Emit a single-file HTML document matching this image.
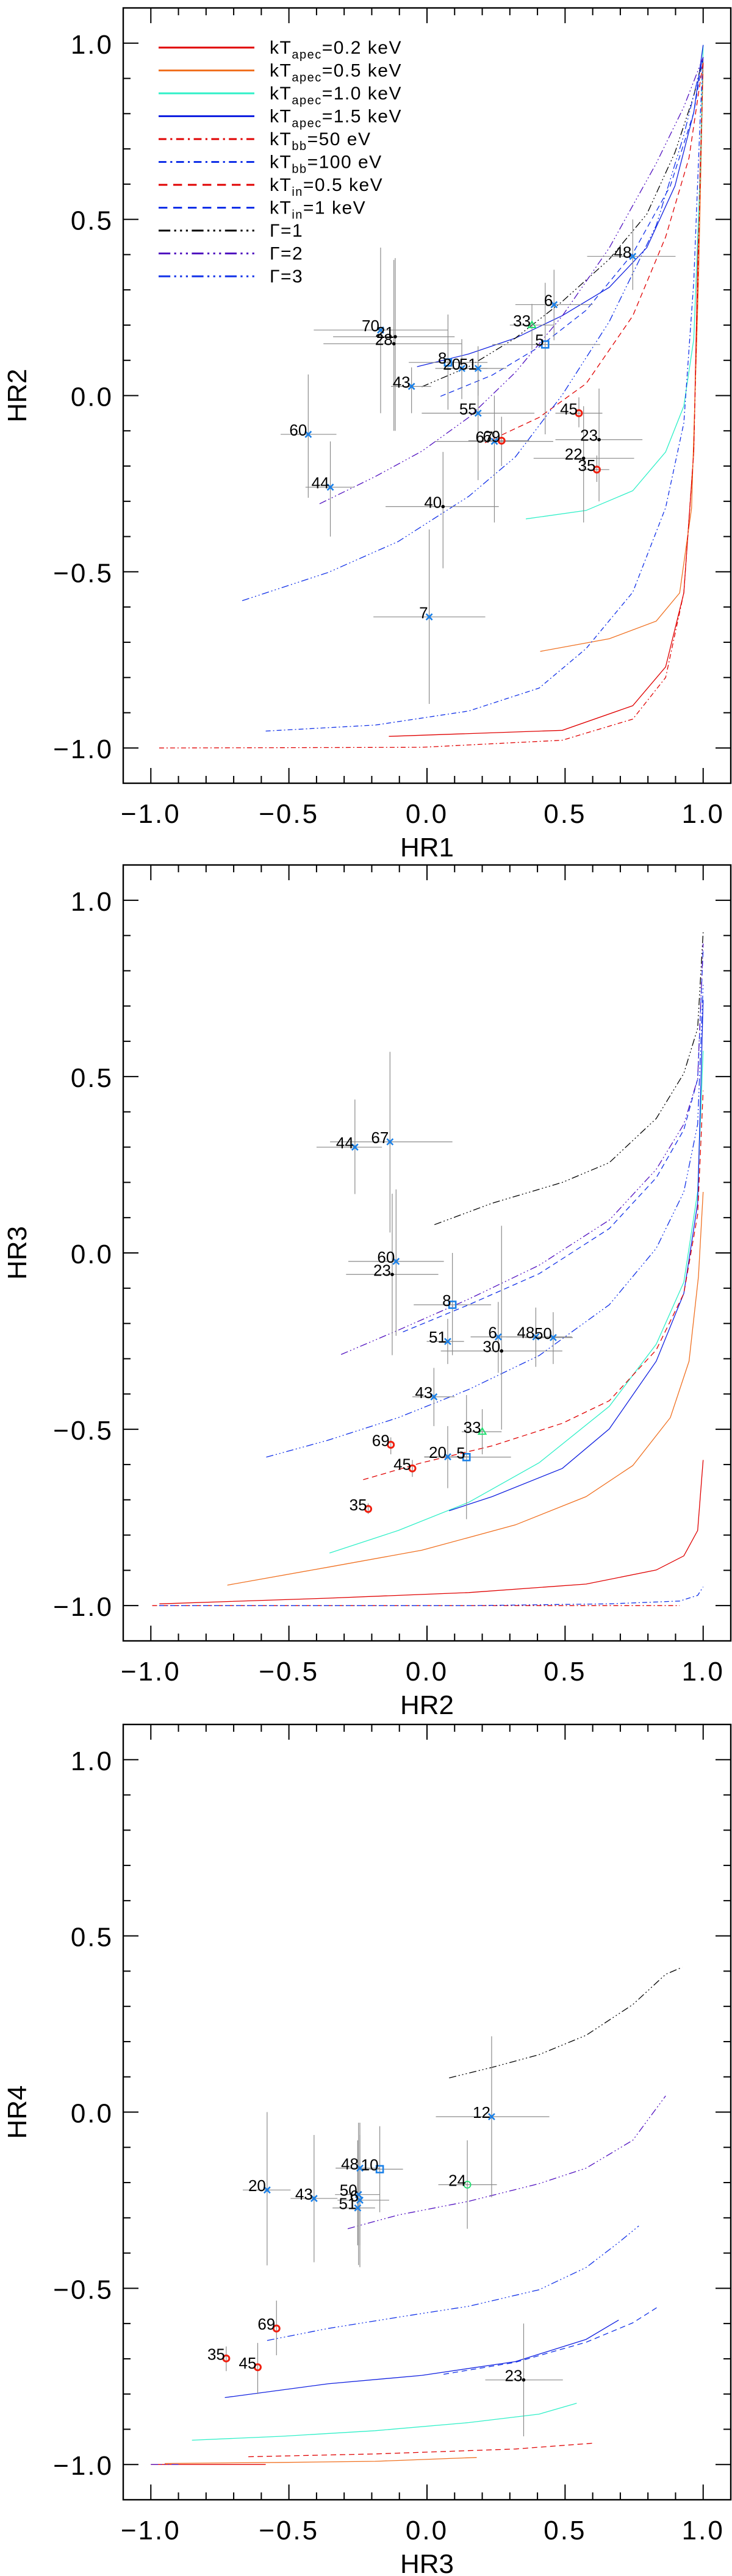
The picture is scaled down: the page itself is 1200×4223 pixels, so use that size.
<!DOCTYPE html>
<html><head><meta charset="utf-8"><title>Hardness ratio diagrams</title>
<style>
html,body{margin:0;padding:0;background:#fff;}
svg{display:block;font-family:"Liberation Sans","DejaVu Sans",sans-serif;}
</style></head>
<body>
<svg id="fig" xmlns="http://www.w3.org/2000/svg" width="1200" height="4223" viewBox="0 0 1200 4223"></svg>
<script>
// ---------- data ----------
const styles = {
  apec02:{c:"#e00000",d:""}, apec05:{c:"#f07020",d:""}, apec10:{c:"#30f0c8",d:""}, apec15:{c:"#1020e0",d:""},
  bb50:{c:"#e00000",d:"8 4 2 4"}, bb100:{c:"#1030e8",d:"8 4 2 4"},
  in05:{c:"#e00000",d:"9 6"}, in1:{c:"#1030e8",d:"9 6"},
  g1:{c:"#000000",d:"12 4 2 4 2 4 2 4"}, g2:{c:"#5010c0",d:"12 4 2 4 2 4 2 4"}, g3:{c:"#1030e8",d:"12 4 2 4 2 4 2 4"}
};
// Panel 1 (HR1 vs HR2) model curves
const p1_apec02_x=[-0.138,0.49,0.745,0.864,0.93,0.966,0.983,1.0];
const p1_apec02_y=[-0.967,-0.95,-0.88,-0.77,-0.56,-0.16,0.48,0.947];
const p1_apec05_x=[0.41,0.66,0.83,0.915,0.958,0.983,1.0];
const p1_apec05_y=[-0.726,-0.69,-0.64,-0.56,-0.32,0.32,0.947];
const p1_apec10_x=[0.358,0.576,0.745,0.864,0.93,0.966,0.99,1.0];
const p1_apec10_y=[-0.35,-0.326,-0.27,-0.16,-0.03,0.16,0.64,0.995];
const p1_apec15_x=[-0.036,0.151,0.32,0.49,0.66,0.796,0.898,0.966,1.0];
const p1_apec15_y=[0.082,0.118,0.163,0.227,0.307,0.42,0.595,0.803,0.995];
const p1_bb50_x=[-0.97,-0.019,0.49,0.745,0.864,0.93,0.966,0.99,1.0];
const p1_bb50_y=[-1.0,-0.998,-0.978,-0.918,-0.8,-0.56,-0.16,0.64,0.96];
const p1_bb100_x=[-0.584,-0.188,0.151,0.406,0.576,0.745,0.864,0.93,0.966,0.99,1.0];
const p1_bb100_y=[-0.952,-0.935,-0.895,-0.83,-0.718,-0.558,-0.318,-0.078,0.323,0.803,0.96];
const p1_in05_x=[0.21,0.406,0.576,0.745,0.864,0.949,1.0];
const p1_in05_y=[-0.134,-0.062,0.034,0.226,0.45,0.675,0.947];
const p1_in1_x=[0.049,0.236,0.406,0.576,0.745,0.881,0.966,1.0];
const p1_in1_y=[-0.002,0.058,0.138,0.242,0.403,0.595,0.803,0.96];
const p1_g1_x=[-0.019,0.151,0.32,0.49,0.66,0.796,0.898,0.966,1.0];
const p1_g1_y=[0.025,0.082,0.163,0.267,0.387,0.515,0.69,0.851,0.96];
const p1_g2_x=[-0.389,-0.188,-0.019,0.151,0.32,0.49,0.66,0.83,0.93,1.0];
const p1_g2_y=[-0.307,-0.23,-0.158,-0.062,0.066,0.226,0.419,0.659,0.819,0.96];
const p1_g3_x=[-0.669,-0.358,-0.104,0.151,0.32,0.49,0.66,0.83,0.93,1.0];
const p1_g3_y=[-0.582,-0.502,-0.414,-0.286,-0.174,0.002,0.21,0.483,0.739,0.96];
// Panel 1 sources
const p1_id=["48","6","33","5","70","21","28","8","20","51","43","55","67","69","45","23","22","35","60","44","40","7"];
const p1_type=["x","x","tri","sq","x","dot","dot","sq","x","x","x","x","x","rc","rc","dot","dot","rc","x","x","dot","x"];
const p1_x=[0.745,0.46,0.38,0.428,-0.168,-0.115,-0.12,0.076,0.126,0.185,-0.056,0.185,0.244,0.27,0.55,0.623,0.567,0.615,-0.43,-0.35,0.058,0.008];
const p1_y=[0.395,0.258,0.2,0.145,0.186,0.167,0.147,0.094,0.077,0.077,0.026,-0.05,-0.13,-0.128,-0.05,-0.125,-0.178,-0.21,-0.11,-0.26,-0.315,-0.628];
const p1_xlo=[0.58,0.32,0.3,0.236,-0.41,-0.34,-0.375,-0.066,0.03,0.083,-0.13,-0.019,0.03,0.15,0.465,0.465,0.386,0.56,-0.53,-0.44,-0.15,-0.194];
const p1_xhi=[0.9,0.6,0.46,0.627,0.075,0.1,0.126,0.219,0.219,0.287,0.015,0.389,0.457,0.37,0.635,0.78,0.75,0.66,-0.328,-0.265,0.26,0.211];
const p1_ylo=[0.3,0.157,0.13,-0.11,-0.05,-0.1,-0.1,-0.04,-0.01,0.0,-0.05,-0.24,-0.36,-0.2,-0.09,-0.3,-0.36,-0.245,-0.29,-0.4,-0.49,-0.875];
const p1_yhi=[0.5,0.357,0.26,0.32,0.42,0.39,0.385,0.23,0.16,0.14,0.08,0.09,0.0,-0.06,-0.005,0.02,-0.03,-0.17,0.06,-0.13,-0.16,-0.38];
// Panel 2 (HR2 vs HR3) model curves
const p2_g1_x=[0.027,0.236,0.49,0.66,0.83,0.93,0.98,1.0];
const p2_g1_y=[0.08,0.141,0.2,0.256,0.381,0.509,0.637,0.909];
const p2_g2_x=[-0.311,-0.104,0.151,0.406,0.66,0.83,0.93,0.98,1.0];
const p2_g2_y=[-0.288,-0.219,-0.131,-0.035,0.093,0.237,0.365,0.493,0.877];
const p2_in1_x=[-0.087,0.151,0.406,0.66,0.83,0.93,0.98,1.0];
const p2_in1_y=[-0.224,-0.147,-0.059,0.069,0.213,0.349,0.493,0.86];
const p2_g3_x=[-0.582,-0.358,-0.104,0.151,0.406,0.66,0.83,0.93,0.98,1.0];
const p2_g3_y=[-0.579,-0.531,-0.467,-0.387,-0.291,-0.147,0.013,0.173,0.365,0.76];
const p2_in05_x=[-0.231,-0.019,0.236,0.49,0.66,0.83,0.93,0.98,1.0];
const p2_in05_y=[-0.643,-0.595,-0.547,-0.483,-0.419,-0.275,-0.115,0.109,0.46];
const p2_apec10_x=[-0.353,-0.104,0.151,0.406,0.66,0.83,0.93,0.98,1.0];
const p2_apec10_y=[-0.851,-0.787,-0.707,-0.595,-0.435,-0.259,-0.083,0.173,0.573];
const p2_apec15_x=[0.08,0.236,0.49,0.66,0.83,0.93,0.98,1.0];
const p2_apec15_y=[-0.731,-0.691,-0.611,-0.499,-0.307,-0.115,0.141,0.717];
const p2_apec05_x=[-0.723,-0.358,-0.019,0.32,0.576,0.745,0.881,0.949,0.983,1.0];
const p2_apec05_y=[-0.942,-0.891,-0.843,-0.771,-0.691,-0.603,-0.467,-0.307,-0.067,0.173];
const p2_apec02_x=[-0.969,-0.358,0.151,0.576,0.83,0.93,0.98,1.0];
const p2_apec02_y=[-0.995,-0.979,-0.963,-0.939,-0.899,-0.859,-0.787,-0.587];
const p2_bb50_x=[-0.995,0.32,0.915];
const p2_bb50_y=[-1.0,-1.0,-1.0];
const p2_bb100_x=[-0.97,0.151,0.66,0.915,0.98,1.0];
const p2_bb100_y=[-1.0,-1.0,-0.995,-0.987,-0.971,-0.947];
// Panel 2 sources
const p2_id=["44","67","60","23","8","51","6","48","50","30","43","33","69","20","5","45","35"];
const p2_type=["x","x","x","dot","sq","x","x","x","x","dot","x","tri","rc","x","sq","rc","rc"];
const p2_x=[-0.261,-0.134,-0.112,-0.126,0.092,0.075,0.258,0.394,0.457,0.27,0.025,0.2,-0.131,0.075,0.143,-0.053,-0.213];
const p2_y=[0.3,0.315,-0.024,-0.061,-0.147,-0.251,-0.238,-0.238,-0.24,-0.278,-0.408,-0.507,-0.544,-0.578,-0.579,-0.611,-0.726];
const p2_xlo=[-0.4,-0.351,-0.285,-0.293,-0.048,-0.001,0.158,0.287,0.355,0.05,-0.053,0.126,-0.131,-0.01,-0.01,-0.053,-0.213];
const p2_xhi=[-0.163,0.092,0.061,0.041,0.232,0.134,0.355,0.525,0.528,0.49,0.1,0.27,-0.131,0.151,0.304,-0.053,-0.213];
const p2_ylo=[0.167,0.058,-0.235,-0.29,-0.29,-0.315,-0.34,-0.323,-0.315,-0.501,-0.491,-0.571,-0.571,-0.667,-0.755,-0.635,-0.74];
const p2_yhi=[0.435,0.57,0.18,0.168,0.0,-0.187,-0.139,-0.155,-0.168,0.077,-0.326,-0.443,-0.523,-0.491,-0.403,-0.587,-0.71];
// Panel 3 (HR3 vs HR4) model curves
const p3_g1_x=[0.08,0.236,0.406,0.576,0.745,0.864,0.924];
const p3_g1_y=[0.097,0.127,0.163,0.218,0.305,0.391,0.411];
const p3_g2_x=[-0.287,-0.104,0.151,0.406,0.576,0.745,0.864];
const p3_g2_y=[-0.331,-0.292,-0.253,-0.203,-0.159,-0.08,0.046];
const p3_g3_x=[-0.579,-0.358,-0.104,0.151,0.406,0.576,0.694,0.767];
const p3_g3_y=[-0.648,-0.614,-0.582,-0.551,-0.504,-0.441,-0.37,-0.323];
const p3_apec15_x=[-0.732,-0.358,-0.019,0.32,0.576,0.694];
const p3_apec15_y=[-0.81,-0.771,-0.747,-0.708,-0.645,-0.59];
const p3_in1_x=[0.06,0.32,0.576,0.745,0.84];
const p3_in1_y=[-0.744,-0.71,-0.653,-0.598,-0.551];
const p3_apec10_x=[-0.851,-0.528,-0.188,0.151,0.406,0.542];
const p3_apec10_y=[-0.931,-0.92,-0.904,-0.881,-0.857,-0.826];
const p3_in05_x=[-0.647,-0.188,0.32,0.609];
const p3_in05_y=[-0.978,-0.97,-0.956,-0.939];
const p3_apec05_x=[-0.95,-0.528,-0.188,0.18];
const p3_apec05_y=[-0.997,-0.994,-0.991,-0.98];
const p3_apec02_x=[-1.0,-0.584];
const p3_apec02_y=[-1.0,-1.0];
const p3_g2b_x=[-1.0,-0.9];
const p3_g2b_y=[-1.0,-1.0];
// Panel 3 sources
const p3_id=["12","48","10","24","20","43","50","6","51","69","35","45","23"];
const p3_type=["x","x","sq","gc","x","x","x","x","x","rc","rc","rc","dot"];
const p3_x=[0.234,-0.243,-0.171,0.146,-0.579,-0.409,-0.248,-0.243,-0.251,-0.545,-0.727,-0.613,0.35];
const p3_y=[-0.013,-0.159,-0.162,-0.206,-0.221,-0.245,-0.234,-0.25,-0.272,-0.614,-0.699,-0.724,-0.76];
const p3_xlo=[0.032,-0.331,-0.239,0.041,-0.667,-0.494,-0.333,-0.324,-0.342,-0.545,-0.727,-0.613,0.211];
const p3_xhi=[0.443,-0.171,-0.087,0.253,-0.494,-0.324,-0.171,-0.137,-0.188,-0.545,-0.727,-0.613,0.492];
const p3_ylo=[-0.242,-0.378,-0.284,-0.331,-0.435,-0.426,-0.434,-0.44,-0.378,-0.69,-0.735,-0.8,-0.92];
const p3_yhi=[0.215,-0.03,-0.04,-0.08,0.0,-0.065,-0.03,-0.065,-0.08,-0.535,-0.665,-0.655,-0.6];
// ticks
const majorTicks=[-1.0,-0.5,0.0,0.5,1.0];
const tickLabels=["\u22121.0","\u22120.5","0.0","0.5","1.0"];
const legendKeys=["apec02","apec05","apec10","apec15","bb50","bb100","in05","in1","g1","g2","g3"];
const legendMain=["kT","kT","kT","kT","kT","kT","kT","kT","\u0393=1","\u0393=2","\u0393=3"];
const legendSub=["apec","apec","apec","apec","bb","bb","in","in","","",""];
const legendTail=["=0.2 keV","=0.5 keV","=1.0 keV","=1.5 keV","=50 eV","=100 eV","=0.5 keV","=1 keV","","",""];

// ---------- drawing ----------
const NS="http://www.w3.org/2000/svg";
const svg=document.getElementById("fig");
function mk(tag,attrs,parent){const e=document.createElementNS(NS,tag);for(const k in attrs)e.setAttribute(k,attrs[k]);(parent||svg).appendChild(e);return e;}

function panel(P){
  const g=mk("g",{});
  
  
  const L=202,R=1198,T=P.T,B=P.B;
  const sx=v=>L+(v+1.1)/2.2*(R-L);
  const sy=v=>B-(v+1.1)/2.2*(B-T);
  const cg=mk("g",{fill:"none","stroke-width":"1.3"},g);
  
  
  P.curves.forEach(cv=>{
    const st=styles[cv.k];
    const d=cv.x.map((v,i)=>(i?"L":"M")+sx(v).toFixed(1)+" "+sy(cv.y[i]).toFixed(1)).join(" ");
    const p=mk("path",{d:d,stroke:st.c},cg);
    if(st.d)p.setAttribute("stroke-dasharray",st.d);
    
    
  });
  const eg=mk("g",{stroke:"#8a8a8a","stroke-width":"1.2"},g);
  
  
  P.x.forEach((v,i)=>{
    mk("line",{x1:sx(P.xlo[i]),x2:sx(P.xhi[i]),y1:sy(P.y[i]),y2:sy(P.y[i])},eg);
    mk("line",{x1:sx(v),x2:sx(v),y1:sy(P.ylo[i]),y2:sy(P.yhi[i])},eg);
  });
  P.x.forEach((v,i)=>{
    const X=sx(v),Y=sy(P.y[i]),t=P.type[i];
    const pg=mk("g",{},g);
    
    
    if(t==="x"){mk("path",{d:`M${X-5} ${Y-5}L${X+5} ${Y+5}M${X-5} ${Y+5}L${X+5} ${Y-5}`,stroke:"#1a80e8","stroke-width":"2.6",fill:"none"},pg);}
    else if(t==="sq"){mk("rect",{x:X-5.5,y:Y-5.5,width:11,height:11,fill:"none",stroke:"#1a80e8","stroke-width":"2.6"},pg);}
    else if(t==="dot"){mk("circle",{cx:X,cy:Y,r:2.8,fill:"#000"},pg);}
    else if(t==="rc"){mk("circle",{cx:X,cy:Y,r:5,fill:"none",stroke:"#f02010","stroke-width":"3"},pg);}
    else if(t==="gc"){mk("circle",{cx:X,cy:Y,r:5.5,fill:"none",stroke:"#20e070","stroke-width":"1.8"},pg);}
    else if(t==="tri"){mk("path",{d:`M${X} ${Y-6}L${X+6} ${Y+4}L${X-6} ${Y+4}Z`,fill:"none",stroke:"#20e070","stroke-width":"2"},pg);}
    const tx=mk("text",{x:X-2,y:Y+2,"text-anchor":"end","font-size":"26",fill:"#000"},pg);
    tx.textContent=P.id[i];
    
    
  });
  const fr=mk("rect",{x:L,y:T,width:R-L,height:B-T,fill:"none",stroke:"#000","stroke-width":"2.4"},g);
  
  
  const tg=mk("g",{stroke:"#000","stroke-width":"2"},g);
  
  
  for(let k=-10;k<=10;k++){
    const v=k/10,maj=(k%5===0),len=maj?25:12;
    const X=sx(v),Y=sy(v);
    mk("line",{x1:X,x2:X,y1:B,y2:B-len},tg);mk("line",{x1:X,x2:X,y1:T,y2:T+len},tg);
    mk("line",{x1:L,x2:L+len,y1:Y,y2:Y},tg);mk("line",{x1:R,x2:R-len,y1:Y,y2:Y},tg);
  }
  majorTicks.forEach((v,i)=>{
    const a=mk("text",{x:sx(v),y:B+65,"text-anchor":"middle","font-size":"44","letter-spacing":"3",fill:"#000"},g);
    a.textContent=tickLabels[i];
    
    
    const b=mk("text",{x:186,y:sy(v)+17,"text-anchor":"end","font-size":"44","letter-spacing":"3",fill:"#000"},g);
    b.textContent=tickLabels[i];
    
    
  });
  const xt=mk("text",{x:(L+R)/2,y:B+120,"text-anchor":"middle","font-size":"44",fill:"#000"},g);
  xt.textContent=P.xl;
  
  
  const ym=(T+B)/2;
  const yt=mk("text",{x:43,y:ym,"text-anchor":"middle","font-size":"44",fill:"#000",transform:`rotate(-90 43 ${ym})`},g);
  yt.textContent=P.yl;
  
  
  return g;
}

function cur(prefix,keys){return keys.map(k=>({k:k,x:eval(prefix+k+"_x"),y:eval(prefix+k+"_y")}));}

panel({name:"panel-hr1-hr2",T:13,B:1284,xl:"HR1",yl:"HR2",
  curves:cur("p1_",["apec02","apec05","apec10","apec15","bb50","bb100","in05","in1","g1","g2","g3"]),
  id:p1_id,type:p1_type,x:p1_x,y:p1_y,xlo:p1_xlo,xhi:p1_xhi,ylo:p1_ylo,yhi:p1_yhi});
panel({name:"panel-hr2-hr3",T:1418,B:2690,xl:"HR2",yl:"HR3",
  curves:cur("p2_",["apec02","apec05","apec10","apec15","bb50","bb100","in05","in1","g1","g2","g3"]),
  id:p2_id,type:p2_type,x:p2_x,y:p2_y,xlo:p2_xlo,xhi:p2_xhi,ylo:p2_ylo,yhi:p2_yhi});
panel({name:"panel-hr3-hr4",T:2827,B:4098,xl:"HR3",yl:"HR4",
  curves:cur("p3_",["apec02","apec05","apec10","apec15","in05","in1","g1","g2","g3"]).concat([{k:"g2",x:p3_g2b_x,y:p3_g2b_y}]),
  id:p3_id,type:p3_type,x:p3_x,y:p3_y,xlo:p3_xlo,xhi:p3_xhi,ylo:p3_ylo,yhi:p3_yhi});

// legend
const lg=mk("g",{});


legendKeys.forEach((k,i)=>{
  const y=78+i*37.5, st=styles[k];
  const e=mk("g",{},lg);
  
  
  const l=mk("line",{x1:260,x2:417,y1:y,y2:y,stroke:st.c,"stroke-width":"3"},e);
  if(st.d)l.setAttribute("stroke-dasharray",st.d.split(" ").map(n=>n*1.6).join(" "));
  const t=mk("text",{x:442,y:y+10,"font-size":"30","letter-spacing":"1.5",fill:"#000"},e);
  const a=mk("tspan",{},t);a.textContent=legendMain[i];
  if(legendSub[i]){
    const s=mk("tspan",{dy:"8","font-size":"20"},t);s.textContent=legendSub[i];
    const r=mk("tspan",{dy:"-8"},t);r.textContent=legendTail[i];
  }
});
</script>
</body></html>
